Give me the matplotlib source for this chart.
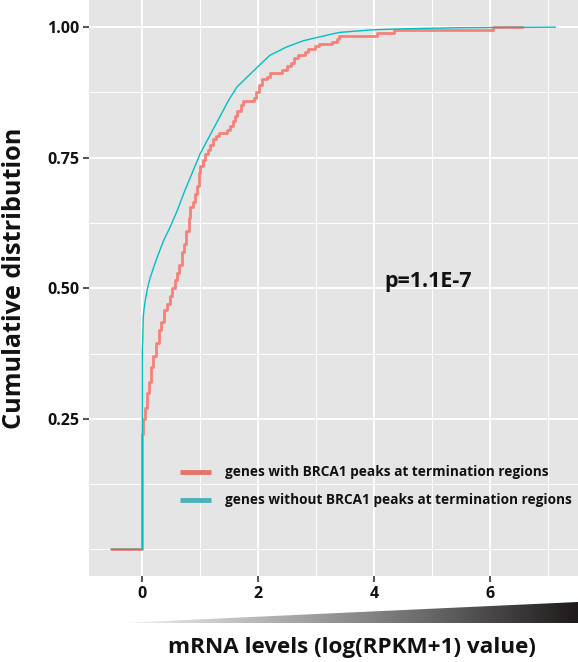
import numpy as np
import matplotlib
matplotlib.use("Agg")
import matplotlib.pyplot as plt
from matplotlib.patches import Polygon
from matplotlib.colors import LinearSegmentedColormap

# ---------------- data ----------------
red_x = [-0.52, 0.0, 0.01, 0.04, 0.08, 0.11, 0.15, 0.19, 0.23, 0.28, 0.32, 0.37,
         0.42, 0.47, 0.52, 0.56, 0.60, 0.64, 0.68, 0.72, 0.76, 0.80, 0.83, 0.87,
         0.91, 0.95, 0.975, 1.0, 1.05, 1.09, 1.13, 1.17, 1.22, 1.27, 1.32, 1.46,
         1.52, 1.56, 1.60, 1.64, 1.70, 1.74, 1.92, 1.97, 2.02, 2.07, 2.16, 2.21,
         2.41, 2.50, 2.56, 2.62, 2.68, 2.80, 2.86, 2.98, 3.05, 3.28, 3.36, 3.40,
         4.05, 4.35, 6.06, 6.55]
red_y = [0.0, 0.22, 0.25, 0.27, 0.30, 0.32, 0.35, 0.37, 0.395, 0.42, 0.435, 0.458,
         0.47, 0.485, 0.50, 0.515, 0.53, 0.545, 0.57, 0.585, 0.61, 0.635, 0.655, 0.665,
         0.68, 0.695, 0.72, 0.735, 0.745, 0.757, 0.765, 0.775, 0.785, 0.792, 0.798, 0.803,
         0.81, 0.82, 0.83, 0.84, 0.85, 0.858, 0.865, 0.875, 0.89, 0.90, 0.905, 0.912,
         0.918, 0.925, 0.932, 0.94, 0.946, 0.952, 0.958, 0.963, 0.968, 0.972, 0.978, 0.983,
         0.988, 0.994, 1.0, 1.0]

teal_x = [-0.54, 0.0, 0.0, 0.007, 0.017, 0.03, 0.047, 0.09, 0.133, 0.22, 0.28, 0.37,
          0.48, 0.60, 0.72, 0.85, 1.0, 1.24, 1.49, 1.63, 1.86, 2.2, 2.49, 2.78, 3.24,
          3.41, 3.99, 4.57, 5.5, 7.13]
teal_y = [0.0, 0.0, 0.38, 0.40, 0.445, 0.46, 0.474, 0.50, 0.519, 0.548, 0.566, 0.592,
          0.617, 0.648, 0.683, 0.718, 0.758, 0.808, 0.860, 0.885, 0.910, 0.946, 0.962,
          0.974, 0.986, 0.99, 0.995, 0.997, 0.999, 1.0]

series_labels = ["genes with BRCA1 peaks at termination regions",
                 "genes without BRCA1 peaks at termination regions"]
x_ticks = [0, 2, 4, 6]
y_ticks = [0.25, 0.50, 0.75, 1.00]
y_tick_labels = ["0.25", "0.50", "0.75", "1.00"]
p_text = "p=1.1E-7"
x_title = "mRNA levels (log(RPKM+1) value)"
y_title = "Cumulative distribution"

# ---------------- figure ----------------
W, H = 578, 662
fig = plt.figure(figsize=(W / 100, H / 100), dpi=100)
FONT = "Open Sans"

ax_l, ax_r, ax_t, ax_b = 89, 578, 0, 576
ax = fig.add_axes([ax_l / W, 1 - ax_b / H, (ax_r - ax_l) / W, (ax_b - ax_t) / H])
ax.set_facecolor("#E5E5E5")
ax.set_xlim(-0.92, 7.52)
ax.set_ylim(-0.051, 1.052)

for s in ax.spines.values():
    s.set_visible(False)

# gridlines
for gx in [1, 3, 5, 7]:
    ax.axvline(gx, color="white", lw=0.7, zorder=0)
for gy in [0.0, 0.125, 0.375, 0.625, 0.875]:
    ax.axhline(gy, color="white", lw=0.7, zorder=0)
for gx in x_ticks:
    ax.axvline(gx, color="white", lw=1.4, zorder=0)
for gy in y_ticks:
    ax.axhline(gy, color="white", lw=1.4, zorder=0)

ax.step(red_x, red_y, where="post", color="#F8766D", lw=2.0, alpha=0.9, zorder=3)
ax.plot(teal_x, teal_y, color="#00BFC4", lw=1.0, zorder=4)

ax.set_xticks(x_ticks)
ax.set_xticklabels([str(t) for t in x_ticks])
ax.set_yticks(y_ticks)
ax.set_yticklabels(y_tick_labels)
ax.tick_params(axis="both", length=4, width=1.2, color="#333333", pad=3)
for lab in ax.get_xticklabels() + ax.get_yticklabels():
    lab.set_fontfamily(FONT)
    lab.set_fontweight("bold")
    lab.set_fontsize(11.5)
    lab.set_color("#111111")

# p value text
ax.text(4.93, 0.513, p_text, fontsize=15.5, fontweight="bold", family=FONT,
        ha="center", va="center", color="#111111")

# legend (manual, in figure pixel coords)
def fx(px):
    return px / W

def fy(py):
    return 1 - py / H

leg_colors = ["#E5746B", "#4DB1B9"]
leg_y = [472, 500]
for lab, col, ly in zip(series_labels, leg_colors, leg_y):
    fig.add_artist(plt.Line2D([fx(180), fx(211)], [fy(ly), fy(ly)], color=col, lw=3.5,
                              transform=fig.transFigure, solid_capstyle="butt"))
    fig.text(fx(225), fy(ly), lab, fontsize=9.8, fontweight="bold", family=FONT,
             ha="left", va="center", color="#111111")

# axis titles
fig.text(fx(352), fy(648), x_title, fontsize=16.2, fontweight="bold", family=FONT,
         ha="center", va="center", color="#111111")
fig.text(fx(15), fy(278), y_title, fontsize=18.2, fontweight="bold", family=FONT,
         ha="center", va="center", rotation=90, color="#111111")

# gradient wedge
gax = fig.add_axes([fx(121), fy(623), fx(578) - fx(121), fy(602) - fy(623)])
gax.set_xlim(0, 1)
gax.set_ylim(0, 1)
gax.axis("off")
cmap = LinearSegmentedColormap.from_list("g", ["#F4F4F4", "#B0B0B0", "#6A6A6A", "#1E1A1B"])
grad = np.linspace(0, 1, 256).reshape(1, -1)
im = gax.imshow(grad, cmap=cmap, extent=[0, 1, 0, 1], aspect="auto")
tri = Polygon([[0, 0], [1, 1], [1, 0]], closed=True, transform=gax.transData,
              facecolor="none", edgecolor="none")
gax.add_patch(tri)
im.set_clip_path(tri)

fig.savefig("out.png", dpi=100)
